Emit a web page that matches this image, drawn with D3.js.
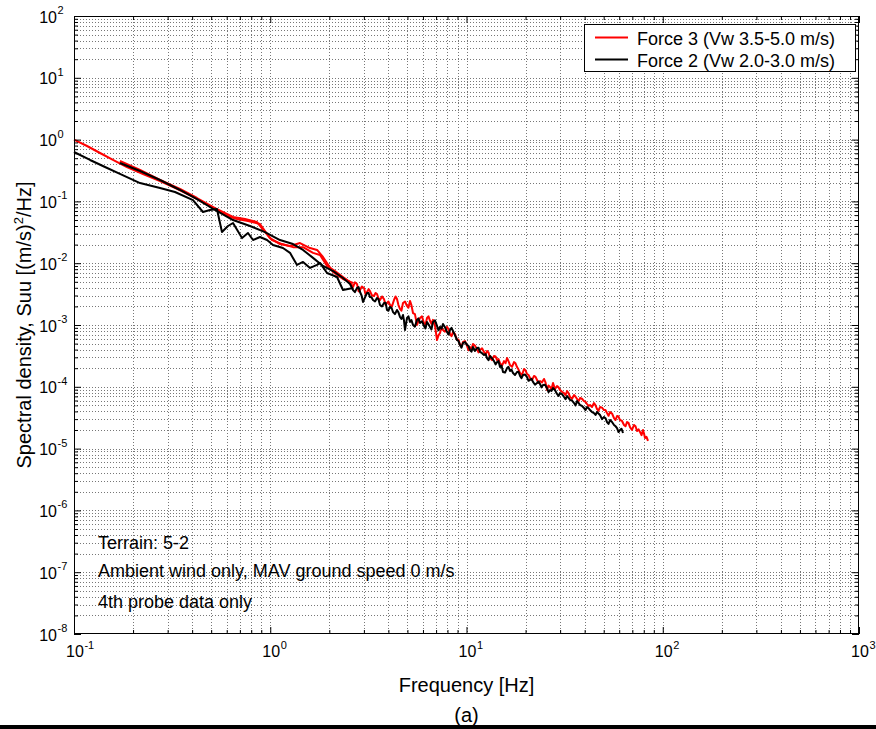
<!DOCTYPE html>
<html><head><meta charset="utf-8">
<script src="https://cdn.jsdelivr.net/npm/d3@7"></script>
<style>body{margin:0;background:#fff} text{font-family:"Liberation Sans",Arial,Helvetica,sans-serif;fill:#000}</style>
</head><body><svg id="c" width="876" height="729"></svg>
<script>
// ---------- data ----------
const xTickExps = [-1, 0, 1, 2, 3];
const yTickExps = [-8, -7, -6, -5, -4, -3, -2, -1, 0, 1, 2];
const seriesNames = ["Force 3 (Vw 3.5-5.0 m/s)", "Force 2 (Vw 2.0-3.0 m/s)"];
const seriesColors = ["#ff0000", "#000000"];
const notes = ["Terrain: 5-2", "Ambient wind only, MAV ground speed 0 m/s", "4th probe data only"];

// Force 3: low-frequency segment
const force3Low = [[0.1,1.0],[0.1165,0.788],[0.1357,0.607],[0.158,0.468],[0.186,0.360],[0.2248,0.278],[0.2744,0.214],[0.335,0.159],[0.404,0.118],[0.4931,0.084],[0.602,0.0581],[0.677,0.0519],[0.770,0.0482],[0.8867,0.0431],[0.997,0.0255],[1.121,0.0204],[1.261,0.0190],[1.418,0.0212],[1.595,0.0176],[1.732,0.0164],[1.857,0.0126],[2.088,0.0072],[2.348,0.00555],[2.640,0.00478]];
// Force 3: full segment
const force3High = [[0.1714,0.451],[0.217,0.322],[0.2744,0.222],[0.3469,0.159],[0.4235,0.1135],[0.523,0.0779],[0.646,0.0559],[0.744,0.0519],[0.856,0.0464],[0.940,0.0319],[1.021,0.0237],[1.148,0.0204],[1.306,0.0182],[1.469,0.0182],[1.652,0.0147],[1.793,0.0136],[1.947,0.00904],[2.138,0.00747],[2.348,0.00598],[2.549,0.00496],
[2.640,0.00412],[2.70,0.0049],[2.767,0.00461],[2.82,0.0035],[2.867,0.00368],[2.93,0.0042],[3.005,0.00397],[3.06,0.0031],[3.113,0.00342],[3.17,0.0038],[3.223,0.00354],[3.30,0.0030],[3.378,0.00294],[3.44,0.0033],[3.499,0.00317],[3.56,0.0027],[3.624,0.00254],[3.71,0.0029],[3.798,0.00263],[3.87,0.0021],[3.935,0.00227],[4.00,0.0024],[4.075,0.00211],[4.17,0.0020],[4.271,0.00254],[4.35,0.0029],[4.424,0.00263],[4.50,0.0021],[4.583,0.00182],[4.66,0.0017],[4.747,0.00227],[4.86,0.0024],[4.976,0.00203],[5.06,0.0019],[5.153,0.00245],[5.24,0.0021],[5.338,0.00156],[5.46,0.0015],[5.595,0.001004],[5.69,0.00115],[5.795,0.0013],[5.93,0.00138],[6.073,0.00108],[6.18,0.00102],[6.292,0.0013],[6.40,0.00138],[6.516,0.00117],[6.63,0.00104],[6.749,0.00121],[6.91,0.00098],[7.074,0.000572],[7.20,0.00068],[7.328,0.000742],[7.46,0.00092],[7.590,0.00083],[7.77,0.00078],[7.956,0.000932],[8.10,0.00085],[8.240,0.000715],[8.39,0.00066],[8.535,0.00077],[8.74,0.00071],[8.946,0.000572],[9.10,0.00058],[9.266,0.000475],[9.43,0.00045],[9.598,0.000531],[9.83,0.00055],[10.06,0.000458],[10.24,0.00039],[10.42,0.00044],[10.60,0.00041],[10.79,0.000493],[11.05,0.00046],[11.31,0.000409],[11.51,0.00036],[11.72,0.000394],[12.00,0.00042],[12.28,0.000366],[12.50,0.00033],[12.72,0.000379],[12.95,0.00036],[13.18,0.000292],[13.49,0.00027],[13.81,0.000315],[14.06,0.00031],[14.31,0.000271],[14.56,0.00028],[14.82,0.000242],[15.17,0.00022],[15.53,0.000261],[15.81,0.00024],[16.09,0.000292],[16.37,0.00026],[16.66,0.000225],[17.06,0.00021],[17.46,0.000251],[17.77,0.00024],[18.09,0.000209],[18.41,0.00019],[18.74,0.000167],[19.18,0.000155],[19.64,0.000194],[19.99,0.000185],[20.35,0.000161],[20.71,0.000155],[21.07,0.000139],[21.57,0.000128],[22.08,0.00015],[22.48,0.000145],[22.88,0.000129],[23.28,0.000115],[23.69,0.000124],[24.25,0.000118],[24.83,0.000134],[25.27,0.000118],[25.72,0.0000887],[26.18,0.000105],[26.65,0.0000993],[27.12,0.000092],[27.60,0.000115],[28.26,0.000092],[28.93,0.000103],[29.44,0.000098],[29.96,0.0000887],[30.67,0.000083],[31.40,0.0000793],[31.96,0.000073],[32.53,0.0000854],[33.11,0.000079],[33.70,0.0000683],[34.50,0.000064],[35.32,0.0000736],[35.95,0.000069],[36.59,0.0000634],[37.23,0.000058],[37.88,0.0000658],[38.78,0.000064],[39.70,0.0000588],[40.41,0.000057],[41.13,0.0000527],[41.86,0.000049],[42.60,0.0000507],[43.61,0.000047],[44.64,0.0000546],[45.44,0.000050],[46.25,0.0000437],[47.07,0.000041],[47.90,0.000047],[49.04,0.000046],[50.20,0.0000421],[51.10,0.000042],[52.00,0.0000376],[52.93,0.000034],[53.87,0.0000391],[55.15,0.000037],[56.46,0.0000312],[57.47,0.000029],[58.49,0.0000337],[59.52,0.000033],[60.57,0.000029],[62.01,0.000028],[63.48,0.0000241],[64.61,0.000023],[65.76,0.0000269],[66.92,0.000026],[68.10,0.0000223],[69.72,0.000020],[71.37,0.0000241],[72.64,0.000023],[73.94,0.0000193],[75.24,0.0000205],[76.57,0.0000186],[77.93,0.0000165],[79.31,0.00002],[80.25,0.0000175],[81.20,0.0000148],[82.64,0.0000155],[84.11,0.0000133]];

// Force 2: low-frequency segment
const force2Low = [[0.1,0.630],[0.1207,0.468],[0.1439,0.360],[0.1714,0.278],[0.217,0.198],[0.2744,0.165],[0.327,0.142],[0.404,0.105],[0.454,0.0674],[0.4931,0.0726],[0.535,0.0754],[0.5675,0.0319],[0.609,0.040],[0.646,0.0447],[0.718,0.0255],[0.770,0.0308],[0.817,0.0237],[0.8867,0.0265],[0.963,0.0237],[1.033,0.0197],[1.161,0.0176],[1.261,0.0147],[1.369,0.00938],[1.469,0.0105],[1.595,0.00838],[1.732,0.00938],[1.793,0.0101],[1.947,0.00694],[2.189,0.00598],[2.348,0.00368],[2.640,0.00397]];
// Force 2: full segment
const force2High = [[0.1714,0.418],[0.217,0.310],[0.2744,0.222],[0.3469,0.153],[0.4235,0.109],[0.523,0.0726],[0.646,0.05],[0.7885,0.040],[0.940,0.0319],[1.121,0.0237],[1.306,0.0204],[1.469,0.0164],[1.652,0.0122],[1.857,0.00904],[2.088,0.00747],[2.348,0.00576],[2.549,0.00461],
[2.640,0.00368],[2.70,0.0034],[2.767,0.00397],[2.82,0.0041],[2.867,0.00342],[2.92,0.0030],[2.970,0.00236],[3.04,0.0028],[3.113,0.00329],[3.17,0.0033],[3.223,0.00283],[3.28,0.0028],[3.338,0.00254],[3.42,0.0024],[3.499,0.00273],[3.56,0.0026],[3.624,0.00211],[3.71,0.0020],[3.798,0.00227],[3.87,0.0023],[3.935,0.00175],[4.00,0.0017],[4.075,0.00196],[4.15,0.0019],[4.221,0.00162],[4.32,0.0015],[4.424,0.00175],[4.50,0.0016],[4.583,0.00135],[4.66,0.00125],[4.747,0.00145],[4.80,0.00120],[4.860,0.00083],[4.92,0.00105],[4.976,0.0013],[5.06,0.00138],[5.153,0.00112],[5.24,0.00120],[5.338,0.001004],[5.46,0.00094],[5.595,0.00121],[5.69,0.00128],[5.795,0.00108],[5.93,0.00115],[6.073,0.000968],[6.18,0.00088],[6.292,0.00112],[6.40,0.00103],[6.516,0.000932],[6.63,0.00085],[6.749,0.00112],[6.91,0.00119],[7.074,0.000968],[7.20,0.00082],[7.328,0.000932],[7.46,0.00087],[7.590,0.00104],[7.77,0.00092],[7.956,0.00077],[8.10,0.00070],[8.240,0.00083],[8.39,0.00090],[8.535,0.000799],[8.74,0.00068],[8.946,0.000572],[9.10,0.00055],[9.266,0.000475],[9.43,0.00043],[9.598,0.000511],[9.83,0.00053],[10.06,0.000475],[10.24,0.00046],[10.42,0.000394],[10.60,0.00037],[10.79,0.00044],[11.05,0.00038],[11.31,0.000424],[11.51,0.00043],[11.72,0.000366],[12.00,0.00035],[12.28,0.000327],[12.50,0.00034],[12.72,0.000292],[12.95,0.00027],[13.18,0.000315],[13.49,0.00029],[13.81,0.000261],[14.06,0.00023],[14.31,0.000251],[14.56,0.00026],[14.82,0.000209],[15.08,0.00022],[15.35,0.000174],[15.72,0.00017],[16.09,0.000201],[16.37,0.00021],[16.66,0.00018],[16.96,0.00019],[17.26,0.000167],[17.67,0.000155],[18.09,0.000174],[18.41,0.000175],[18.74,0.00015],[19.07,0.000138],[19.41,0.000155],[19.88,0.000158],[20.35,0.000144],[20.71,0.000125],[21.07,0.000129],[21.44,0.000135],[21.82,0.00012],[22.34,0.000108],[22.88,0.000115],[23.28,0.000122],[23.69,0.000111],[24.11,0.000098],[24.54,0.000107],[25.12,0.000108],[25.72,0.0000957],[26.18,0.000082],[26.65,0.0000887],[27.12,0.000086],[27.60,0.0000957],[28.26,0.000088],[28.93,0.0000765],[29.44,0.000071],[29.96,0.0000793],[30.67,0.000076],[31.40,0.0000683],[31.96,0.000063],[32.53,0.000071],[33.11,0.000066],[33.70,0.0000611],[34.50,0.000060],[35.32,0.0000546],[35.95,0.000050],[36.59,0.0000588],[37.23,0.000055],[37.88,0.0000507],[38.78,0.000049],[39.70,0.0000453],[40.41,0.000042],[41.13,0.000047],[41.86,0.000045],[42.60,0.0000421],[43.61,0.000039],[44.64,0.0000376],[45.44,0.000035],[46.25,0.0000391],[47.07,0.000037],[47.90,0.0000349],[49.04,0.000030],[50.20,0.0000324],[51.10,0.000031],[52.00,0.0000269],[52.93,0.000025],[53.87,0.000029],[55.15,0.000027],[56.46,0.0000241],[57.47,0.000023],[58.49,0.0000215],[59.52,0.0000185],[60.57,0.00002],[61.6,0.000021],[62.74,0.0000179]];

// ---------- layout ----------
const L = 74, R = 859, T = 16, B = 634;
const svg = d3.select("#c");
svg.append("rect").attr("width", 876).attr("height", 729).attr("fill", "#fff");

const x = d3.scaleLog().domain([0.1, 1000]).range([L, R]);
const y = d3.scaleLog().domain([1e-8, 100]).range([B, T]);

function decadeVals(e0, e1) {
  const out = [];
  for (let e = e0; e < e1; e++) for (let m = 1; m <= 9; m++) out.push(+(m * Math.pow(10, e)).toPrecision(3));
  out.push(Math.pow(10, e1));
  return out;
}
const xAll = decadeVals(-1, 3), yAll = decadeVals(-8, 2);
const xMajor = xTickExps.map(e => Math.pow(10, e)), yMajor = yTickExps.map(e => Math.pow(10, e));
const xMinor = xAll.filter(v => !xMajor.some(m => Math.abs(m - v) / m < 1e-6));
const yMinor = yAll.filter(v => !yMajor.some(m => Math.abs(m - v) / m < 1e-6));

// grid
const grid = svg.append("g").attr("stroke", "#777").attr("stroke-width", 1).attr("stroke-dasharray", "1,2");
xAll.filter(v => v > 0.1 && v < 1000).forEach(v => {
  const px = Math.round(x(v)) + 0.5;
  grid.append("line").attr("x1", px).attr("x2", px).attr("y1", T).attr("y2", B);
});
yAll.filter(v => v > 1e-8 && v < 100).forEach(v => {
  const py = Math.round(y(v)) + 0.5;
  grid.append("line").attr("x1", L).attr("x2", R).attr("y1", py).attr("y2", py);
});

// data lines
const line = d3.line().x(d => x(d[0])).y(d => y(d[1]));
const plotG = svg.append("g").attr("fill", "none").attr("stroke-width", 2).attr("stroke-linejoin", "round");
[[force3Low, 0], [force3High, 0], [force2Low, 1], [force2High, 1]].forEach(([d, i]) => {
  plotG.append("path").datum(d).attr("d", line).attr("stroke", seriesColors[i]);
});

// axes ticks (inward, all four sides)
function tickAxis(axisGen, transform, vals, size) {
  const g = svg.append("g").attr("transform", transform)
    .call(axisGen.tickValues(vals).tickSize(-size).tickFormat(""));
  g.select(".domain").remove();
  g.selectAll("line").attr("stroke", "#000");
}
tickAxis(d3.axisBottom(x), `translate(0,${B})`, xMajor, 7);
tickAxis(d3.axisBottom(x), `translate(0,${B})`, xMinor, 4);
tickAxis(d3.axisTop(x), `translate(0,${T})`, xMajor, 7);
tickAxis(d3.axisTop(x), `translate(0,${T})`, xMinor, 4);
tickAxis(d3.axisLeft(y), `translate(${L},0)`, yMajor, 7);
tickAxis(d3.axisLeft(y), `translate(${L},0)`, yMinor, 4);
tickAxis(d3.axisRight(y), `translate(${R},0)`, yMajor, 7);
tickAxis(d3.axisRight(y), `translate(${R},0)`, yMinor, 4);

// border
svg.append("rect").attr("x", L + 0.5).attr("y", T + 0.5).attr("width", R - L - 1).attr("height", B - T - 1)
  .attr("fill", "none").attr("stroke", "#000").attr("stroke-width", 1);

// tick labels
xTickExps.forEach(e => {
  const cx = x(Math.pow(10, e)) + 1;
  const t = svg.append("text").attr("x", cx).attr("y", 657).attr("text-anchor", "middle").style("font-size", "16px").text("10");
  const w = t.node().getComputedTextLength();
  svg.append("text").attr("x", cx + w / 2 + 0.5).attr("y", 649).style("font-size", "11px").text(String(e));
});
yTickExps.forEach(e => {
  const cy = y(Math.pow(10, e));
  svg.append("text").attr("x", 57).attr("y", cy + 6.5).attr("text-anchor", "end").style("font-size", "16px").text("10");
  svg.append("text").attr("x", 57.5).attr("y", cy - 2).style("font-size", "11px").text(String(e));
});

// axis titles
svg.append("text").attr("x", (L + R) / 2).attr("y", 692).attr("text-anchor", "middle").style("font-size", "20px").text("Frequency [Hz]");
svg.append("text").attr("x", (L + R) / 2).attr("y", 722).attr("text-anchor", "middle").style("font-size", "20px").text("(a)");
const yl = svg.append("text").attr("transform", `translate(31,${(T + B) / 2}) rotate(-90)`).attr("text-anchor", "middle").style("font-size", "20px");
yl.append("tspan").text("Spectral density, Suu [(m/s)");
yl.append("tspan").attr("dy", -8).style("font-size", "13px").text("2");
yl.append("tspan").attr("dy", 8).text("/Hz]");

// annotations
const noteY = [549, 577, 608];
notes.forEach((s, i) => svg.append("text").attr("x", 98).attr("y", noteY[i]).style("font-size", "18px").text(s));

// legend
const lg = svg.append("g");
lg.append("rect").attr("x", 584.5).attr("y", 24.5).attr("width", 271).attr("height", 47).attr("fill", "#fff").attr("stroke", "#000");
seriesNames.forEach((s, i) => {
  const ly = 37.5 + i * 22;
  lg.append("line").attr("x1", 595).attr("x2", 628).attr("y1", ly).attr("y2", ly).attr("stroke", seriesColors[i]).attr("stroke-width", 2);
  lg.append("text").attr("x", 637).attr("y", 44.5 + i * 22).style("font-size", "18px").text(s);
});

// bottom bar
svg.append("rect").attr("x", 0).attr("y", 725).attr("width", 876).attr("height", 4).attr("fill", "#000");
</script></body></html>
